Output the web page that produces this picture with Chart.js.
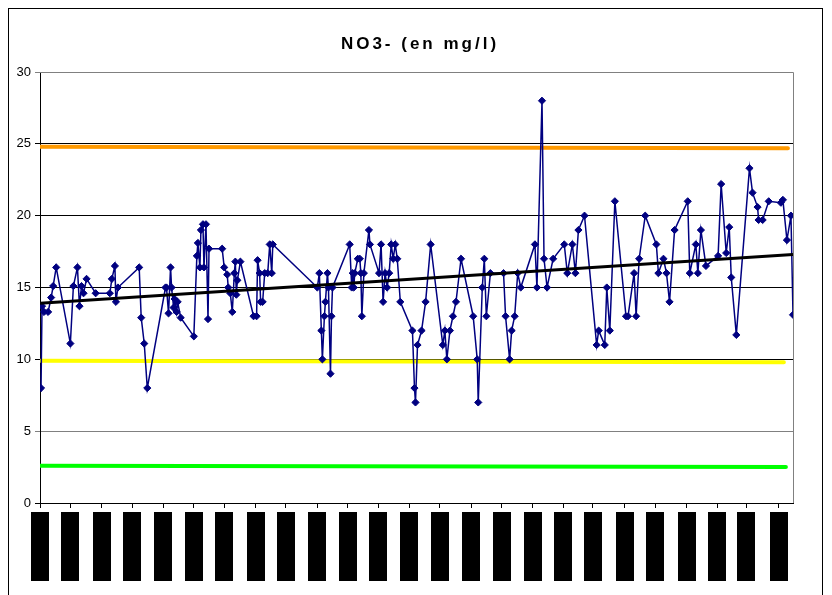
<!DOCTYPE html>
<html>
<head>
<meta charset="utf-8">
<title>NO3- (en mg/l)</title>
<script src="https://cdn.jsdelivr.net/npm/chart.js@4.4.1/dist/chart.umd.min.js"></script>
<style>
  html, body { margin: 0; padding: 0; background: #fff; }
  canvas { display: block; }
</style>
</head>
<body>
<canvas id="no3Chart" width="832" height="595"></canvas>
<script>
// NO3- concentration, sample day (days since first month tick) and value in mg/l
const sampleDays = [1, 2, 4, 8, 11, 13, 16, 30, 33, 37, 39, 41, 43, 46, 55, 69, 71, 74, 75, 77,
  98, 100, 103, 106, 124, 125, 127, 129, 130, 132, 133, 135, 136, 139, 152, 155, 156, 158, 159, 161,
  162, 164, 166, 167, 180, 182, 185, 186, 188, 190, 192, 193, 194, 195, 198, 211, 214, 215, 217, 218,
  220, 222, 225, 227, 229, 230, 274, 276, 278, 279, 281, 282, 284, 285, 287, 288, 289, 306, 308, 309,
  310, 311, 314, 316, 317, 318, 320, 325, 326, 335, 337, 339, 341, 343, 345, 347, 349, 351, 353, 356,
  368, 370, 371, 373, 377, 381, 386, 398, 400, 402, 405, 408, 411, 416, 428, 432, 433, 437, 439, 441,
  445, 458, 460, 464, 466, 469, 472, 475, 489, 491, 496, 498, 501, 507, 518, 521, 526, 529, 532, 538,
  550, 552, 558, 560, 563, 568, 579, 581, 587, 589, 592, 598, 609, 611, 616, 619, 622, 627, 640, 642,
  648, 650, 653, 658, 670, 673, 678, 681, 683, 688, 701, 704, 709, 710, 714, 720, 732, 734, 738, 742, 744];
const no3Values = [8.0, 13.7, 13.3, 13.3, 14.3, 15.1, 16.4, 11.1, 15.1, 16.4, 13.7, 15.1, 14.6, 15.6, 14.6, 14.6, 15.6, 16.5, 14.0, 15.0,
  16.4, 12.9, 11.1, 8.0, 15.0, 15.0, 13.2, 16.4, 15.0, 13.6, 14.2, 13.3, 14.0, 12.9, 11.6, 17.2, 18.1, 16.4, 19.0, 19.4,
  16.4, 19.4, 12.8, 17.7, 17.7, 16.4, 15.9, 15.0, 14.6, 13.3, 16.0, 16.8, 14.5, 15.5, 16.8, 13.0, 13.0, 16.9, 16.0, 14.0,
  14.0, 16.0, 16.0, 18.0, 16.0, 18.0, 15.0, 16.0, 12.0, 10.0, 13.0, 14.0, 16.0, 15.0, 9.0, 13.0, 15.0, 18.0, 15.0, 16.0,
  15.0, 16.0, 17.0, 17.0, 16.0, 13.0, 16.0, 19.0, 18.0, 16.0, 18.0, 14.0, 16.0, 15.0, 16.0, 18.0, 17.0, 18.0, 17.0, 14.0,
  12.0, 8.0, 7.0, 11.0, 12.0, 14.0, 18.0, 11.0, 12.0, 10.0, 12.0, 13.0, 14.0, 17.0, 13.0, 10.0, 7.0, 15.0, 17.0, 13.0,
  16.0, 16.0, 13.0, 10.0, 12.0, 13.0, 16.0, 15.0, 18.0, 15.0, 28.0, 17.0, 15.0, 17.0, 18.0, 16.0, 18.0, 16.0, 19.0, 20.0,
  11.0, 12.0, 11.0, 15.0, 12.0, 21.0, 13.0, 13.0, 16.0, 13.0, 17.0, 20.0, 18.0, 16.0, 17.0, 16.0, 14.0, 19.0, 21.0, 16.0,
  18.0, 16.0, 19.0, 16.5, 17.2, 22.2, 17.4, 19.2, 15.7, 11.7, 23.3, 21.6, 20.6, 19.7, 19.7, 21.0, 20.9, 21.1, 18.3, 20.0, 13.1];

// linear trend, read at both ends
const trendDays = [0, 744];
const trendValues = [13.9, 17.3];

// reference levels (start / end)
const orangeDays = [0, 739];
const orangeValues = [24.8, 24.7];
const yellowDays = [0, 735];
const yellowValues = [9.9, 9.8];
const greenDays = [0, 737];
const greenValues = [2.6, 2.5];

// month ticks on the date axis (labels are blacked out in the source)
const monthTicks = [0, 30, 61, 91, 122, 152, 182, 213, 243, 274, 304, 334, 365,
  395, 426, 456, 487, 517, 546, 578, 608, 639, 669, 698, 730];

const chartTitle = 'NO3- (en mg/l)';
const yMin = 0, yMax = 30, yStep = 5;
const xMin = 0, xMax = 744;

const toPoints = (xs, ys) => xs.map((x, i) => ({ x: x, y: ys[i] }));

const FONT = "Arial, 'Liberation Sans', sans-serif";

// white page, outer frame and title
const framePlugin = {
  id: 'frame',
  beforeDraw(chart) {
    const ctx = chart.ctx;
    ctx.save();
    ctx.fillStyle = '#fff';
    ctx.fillRect(0, 0, chart.width, chart.height);
    ctx.strokeStyle = '#000';
    ctx.lineWidth = 1;
    ctx.strokeRect(8.5, 8.5, 814, 600);
    ctx.fillStyle = '#000';
    ctx.font = 'bold 17px ' + FONT;
    ctx.letterSpacing = '3px';
    ctx.textAlign = 'center';
    ctx.textBaseline = 'middle';
    ctx.fillText(chartTitle, 420, 44);
    ctx.restore();
  },
  beforeDatasetsDraw(chart) {
    const { ctx, chartArea } = chart;
    ctx.save();
    ctx.strokeStyle = '#808080';
    ctx.lineWidth = 1;
    ctx.beginPath();
    ctx.moveTo(chartArea.left, chartArea.top + 0.5);
    ctx.lineTo(Math.round(chartArea.right) + 0.5, chartArea.top + 0.5);
    ctx.lineTo(Math.round(chartArea.right) + 0.5, chartArea.bottom);
    ctx.stroke();
    ctx.restore();
  },
  afterDraw(chart) {
    // redacted date labels: solid black blocks under each tick
    const ctx = chart.ctx;
    const xs = chart.scales.x;
    ctx.save();
    ctx.fillStyle = '#000';
    xs.ticks.forEach(t => {
      const px = xs.getPixelForValue(t.value);
      ctx.fillRect(Math.round(px) - 9, 512, 18, 69);
    });
    ctx.restore();
  }
};

new Chart(document.getElementById('no3Chart'), {
  type: 'scatter',
  data: {
    datasets: [
      {
        label: 'Tendance',
        data: toPoints(trendDays, trendValues),
        showLine: true,
        borderColor: '#000',
        borderWidth: 3,
        pointRadius: 0
      },
      {
        label: 'NO3-',
        data: toPoints(sampleDays, no3Values),
        showLine: true,
        borderColor: '#000080',
        backgroundColor: '#000080',
        borderWidth: 1.5,
        pointStyle: 'rectRot',
        pointRadius: 3.6,
        pointBorderWidth: 1,
        pointBorderColor: '#000080',
        pointBackgroundColor: '#000080'
      },
      {
        label: 'Orange',
        data: toPoints(orangeDays, orangeValues),
        showLine: true,
        borderColor: '#FF9900',
        borderWidth: 4,
        borderCapStyle: 'round',
        pointRadius: 0
      },
      {
        label: 'Jaune',
        data: toPoints(yellowDays, yellowValues),
        showLine: true,
        borderColor: '#FFFF00',
        borderWidth: 4,
        borderCapStyle: 'round',
        pointRadius: 0
      },
      {
        label: 'Vert',
        data: toPoints(greenDays, greenValues),
        showLine: true,
        borderColor: '#00FF00',
        borderWidth: 4,
        borderCapStyle: 'round',
        pointRadius: 0
      }
    ]
  },
  options: {
    responsive: false,
    animation: false,
    layout: { padding: { top: 72, left: 8, right: 39, bottom: 0 } },
    plugins: {
      legend: { display: false },
      title: { display: false },
      tooltip: { enabled: false }
    },
    scales: {
      x: {
        type: 'linear',
        min: xMin,
        max: xMax,
        afterBuildTicks: scale => { scale.ticks = monthTicks.map(v => ({ value: v })); },
        afterFit: scale => { scale.height = 92; },
        grid: { drawOnChartArea: false, drawTicks: true, tickLength: 5, color: '#000' },
        border: { color: '#000', width: 1 },
        ticks: { callback: () => '', font: { size: 1 } }
      },
      y: {
        min: yMin,
        max: yMax,
        afterFit: scale => { scale.width = 32; },
        ticks: {
          stepSize: yStep,
          padding: 4,
          color: '#000',
          font: { family: FONT, size: 13 }
        },
        grid: {
          tickLength: 5,
          color: c => (c.tick && (c.tick.value === 30 || c.tick.value === 5)) ? '#808080' : '#000'
        },
        border: { color: '#000', width: 1 }
      }
    }
  },
  plugins: [framePlugin]
});
</script>
</body>
</html>
